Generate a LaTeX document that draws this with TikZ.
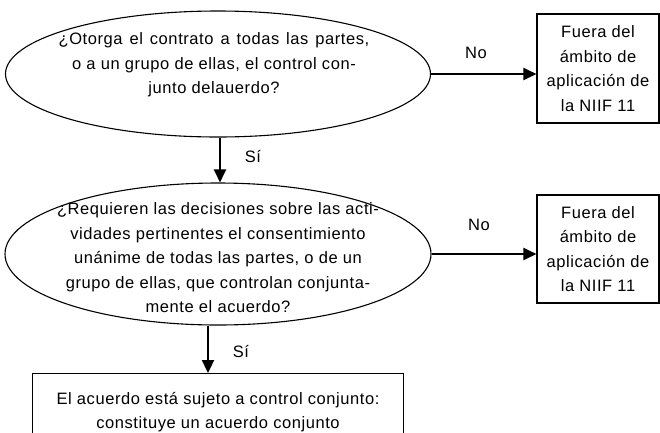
\documentclass[tikz,border=0pt]{standalone}
\usepackage{fontspec}
\setmainfont[LetterSpace=3.5]{Liberation Sans}
\usetikzlibrary{shapes.geometric,arrows.meta}
\newcommand\myWideSpacing{\spaceskip=0.42em plus 0.1em\relax}
\begin{document}
\begin{tikzpicture}[x=1pt,y=-1pt,
  every node/.style={font=\fontsize{16.5}{24.5}\selectfont},
  decision/.style={draw,line width=1.1pt,ellipse,inner sep=0pt},
  outbox/.style={draw,line width=1.1pt,rectangle,inner sep=0pt,align=center},
  txt/.style={align=center,inner sep=0pt},
  flow/.style={line width=2.2pt,-{Triangle[length=13pt,width=12pt]}},
  lbl/.style={inner sep=0pt}]
\useasboundingbox (0,0) rectangle (660,432);
\node[decision,minimum width=425pt,minimum height=126pt] (q1) at (218,74) {};
\node[txt] (q1text) at (214,65)
  {\myWideSpacing ¿Otorga el contrato a todas las partes,\\ o a un grupo de ellas, el control con-\\ junto delauerdo?};
\node[outbox,minimum width=122pt,minimum height=109pt] (o1) at (598,68.5)
  {Fuera del\\ ámbito de\\ aplicación de\\ la NIIF 11};
\node[decision,minimum width=426pt,minimum height=142pt] (q2) at (218,254) {};
\node[txt] (q2text) at (218,258)
  {¿Requieren las decisiones sobre las acti-\\ vidades pertinentes el consentimiento\\ unánime de todas las partes, o de un\\ grupo de ellas, que controlan conjunta-\\ mente el acuerdo?};
\node[outbox,minimum width=122pt,minimum height=108pt] (o2) at (598,249)
  {Fuera del\\ ámbito de\\ aplicación de\\ la NIIF 11};
\node[outbox,minimum width=371pt,minimum height=80pt,anchor=north west] (res) at (32,373) {};
\node[txt] (restext) at (218,412)
  {El acuerdo está sujeto a control conjunto:\\ constituye un acuerdo conjunto};
\coordinate (a1) at (220,137);
\coordinate (a2) at (208,325);
\draw[flow] (q1.east) -- (o1.west |- q1.east);
\draw[flow] (q1.south -| a1) -- (a1 |- q2.north);
\draw[flow] (q2.east) -- (o2.west |- q2.east);
\draw[flow] (q2.south -| a2) -- (a2 |- res.north);
\node[lbl] (no1) at (476,53) {No};
\node[lbl] (si1) at (253,156) {Sí};
\node[lbl] (no2) at (479,225) {No};
\node[lbl] (si2) at (241,351) {Sí};
\end{tikzpicture}
\end{document}
